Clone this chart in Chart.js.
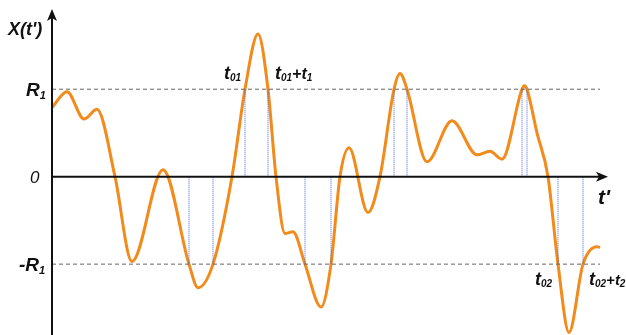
<!DOCTYPE html>
<html>
<head>
<meta charset="utf-8">
<script src="https://cdn.jsdelivr.net/npm/chart.js@4"></script>
<style>
  html, body { margin: 0; padding: 0; background: #fff; }
  canvas { display: block; }
</style>
</head>
<body>
<canvas id="chart" width="626" height="335"></canvas>
<script>
// signal X(t'): time t' and value in units of R1
const times = [0, 3, 6.4, 9, 12.6, 16, 22.2, 27.4, 29.2, 32.2, 36, 38.6, 41.2, 43.2, 44.8, 46.6, 48.2, 50.6, 53.8, 55.8,
  57.6, 59.4, 63.2, 65.6, 68.4, 69.6, 71, 75, 80, 85, 87.6, 90, 94, 94.5, 95, 97, 99.2, 101.2, 103.4, 106.2, 109, 109.6];
const values = [0.79, 0.97, 0.66, 0.77, 0, -0.97, 0.08, -1, -1.27, -1, 0, 1, 1.63, 1, 0, -0.65, -0.63, -1, -1.49, -1,
  0, 0.33, -0.41, 0, 1, 1.18, 1, 0.17, 0.64, 0.25, 0.29, 0.2, 1, 1.04, 1, 0.5, 0, -1, -1.78, -1, -0.8, -0.81];

// threshold levels R1 and -R1
const thresholds = [1, -1];
const thresholdEnd = 109.6;

// threshold crossings, dotted down/up to the time axis
const crossTimes = [27.4, 32.2, 38.6, 43.2, 50.6, 55.8, 68.4, 71, 94, 95, 101.2, 106.2];
const crossLevels = [-1, -1, 1, 1, -1, -1, 1, 1, 1, 1, -1, -1];

const signal = times.map((t, i) => ({ x: t, y: values[i] }));

const datasets = [];
thresholds.forEach(level => {
  datasets.push({
    data: [{ x: 0, y: level }, { x: thresholdEnd, y: level }],
    borderColor: '#666',
    borderWidth: 1,
    borderDash: [4, 3],
    pointRadius: 0
  });
});
crossTimes.forEach((t, i) => {
  datasets.push({
    data: [{ x: t, y: 0 }, { x: t, y: crossLevels[i] }],
    borderColor: '#3f63d6',
    borderWidth: 1,
    borderDash: [1, 1],
    pointRadius: 0
  });
});
datasets.push({
  data: signal,
  borderColor: '#f28a1c',
  borderWidth: 3,
  pointRadius: 0,
  cubicInterpolationMode: 'monotone',
  clip: false
});

function subText(ctx, x, y, parts) {
  // parts: [text, size, dy]
  let cx = x;
  parts.forEach(p => {
    ctx.font = 'italic bold ' + p[1] + 'px "Liberation Sans", Arial, sans-serif';
    ctx.fillText(p[0], cx, y + (p[2] || 0));
    cx += ctx.measureText(p[0]).width;
  });
}

const axesPlugin = {
  id: 'axes',
  afterDatasetsDraw(chart) {
    const ctx = chart.ctx;
    const xs = chart.scales.x, ys = chart.scales.y;
    const x0 = xs.getPixelForValue(0);
    const y0 = ys.getPixelForValue(0);
    const yR = ys.getPixelForValue(1);
    const yNR = ys.getPixelForValue(-1);
    ctx.save();
    ctx.strokeStyle = '#111';
    ctx.fillStyle = '#111';
    ctx.lineWidth = 2;
    // vertical axis
    ctx.beginPath();
    ctx.moveTo(x0, 335);
    ctx.lineTo(x0, 18);
    ctx.stroke();
    ctx.beginPath();
    ctx.moveTo(x0, 9);
    ctx.lineTo(x0 - 5, 21);
    ctx.lineTo(x0, 18);
    ctx.lineTo(x0 + 5, 21);
    ctx.closePath();
    ctx.fill();
    // time axis
    ctx.beginPath();
    ctx.moveTo(x0, y0);
    ctx.lineTo(600, y0);
    ctx.stroke();
    ctx.beginPath();
    ctx.moveTo(608, y0);
    ctx.lineTo(596, y0 - 5);
    ctx.lineTo(599, y0);
    ctx.lineTo(596, y0 + 5);
    ctx.closePath();
    ctx.fill();

    ctx.textBaseline = 'alphabetic';
    subText(ctx, 8, 35, [["X(t')", 18]]);
    subText(ctx, 26, yR + 7, [['R', 19], ['1', 11, 3]]);
    ctx.font = 'italic 17px "Liberation Sans", Arial, sans-serif';
    ctx.fillText('0', 30, y0 + 6);
    subText(ctx, 19, yNR + 7, [['-R', 19], ['1', 11, 3]]);
    subText(ctx, 224, 79, [['t', 18], ['01', 10, 2]]);
    subText(ctx, 275, 79, [['t', 18], ['01', 10, 2], ['+t', 16], ['1', 10, 2]]);
    subText(ctx, 598, 204, [["t'", 21]]);
    subText(ctx, 535, 285, [['t', 18], ['02', 10, 2]]);
    subText(ctx, 589, 285, [['t', 18], ['02', 10, 2], ['+t', 15], ['2', 10, 2]]);
    ctx.restore();
  }
};

new Chart(document.getElementById('chart'), {
  type: 'line',
  data: { datasets: datasets },
  options: {
    responsive: false,
    animation: false,
    events: [],
    layout: { padding: { left: 52, right: 24, top: 0, bottom: 0 } },
    plugins: { legend: { display: false }, tooltip: { enabled: false } },
    scales: {
      x: { type: 'linear', min: 0, max: 110, display: false },
      y: { type: 'linear', min: -1.81, max: 2.02, display: false }
    }
  },
  plugins: [axesPlugin]
});
</script>
</body>
</html>
